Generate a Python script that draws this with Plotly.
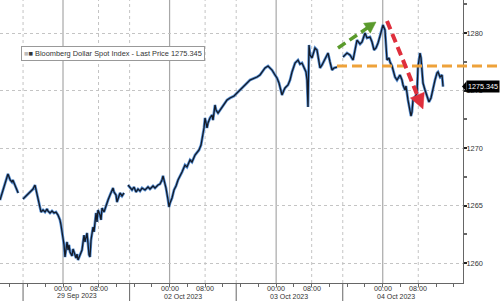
import plotly.graph_objects as go

# Bloomberg Dollar Spot Index, intraday. Time = hours since 29 Sep 2023 00:00
# (weekend compressed as on the Bloomberg chart)
seg1_t = [-14.2, -13.5, -12.8, -12.4, -11.9, -11.5, -11.3, -10.8, -10.1]
seg1_v = [1265.48, 1266.35, 1267.22, 1267.74, 1267.22, 1267.04, 1267.22, 1266.78, 1266.09]

seg2_t = [-9.01, -8.33, -7.66, -7.21, -6.76, -6.31, -6.08, -5.63, -5.18, -4.95,
          -4.50, -4.05, -3.60, -3.38, -2.93, -2.48, -2.03, -1.58, -1.13, -0.68,
          -0.45, -0.23, 0.0, 0.23, 0.45, 0.68, 0.90, 1.13, 1.35, 1.58,
          2.03, 2.25, 2.48, 2.93, 3.15, 3.38, 3.83, 4.28, 4.73, 4.95,
          5.41, 5.63, 5.86, 6.08, 6.31, 6.76, 6.98, 7.43, 7.66, 7.88,
          8.33, 8.56, 8.78, 9.23, 9.68, 10.14, 10.59, 11.04, 11.26, 11.49,
          11.94, 12.16, 12.39, 12.84, 13.29, 13.74]
seg2_v = [1265.57, 1265.83, 1266.09, 1266.17, 1266.43, 1266.78, 1266.35, 1265.65, 1264.78, 1264.43,
          1264.61, 1264.43, 1264.70, 1264.52, 1264.35, 1264.52, 1264.35, 1264.43, 1264.17, 1263.74,
          1263.30, 1262.70, 1262.26, 1261.57, 1260.52, 1261.30, 1261.83, 1261.13, 1261.57, 1260.96,
          1260.61, 1261.22, 1260.87, 1260.43, 1260.78, 1260.26, 1260.70, 1261.13, 1262.43, 1261.83,
          1262.61, 1261.57, 1260.70, 1260.52, 1262.00, 1263.13, 1262.70, 1264.35, 1263.57, 1264.61,
          1264.17, 1263.74, 1264.78, 1264.43, 1265.04, 1265.48, 1265.91, 1266.35, 1266.52, 1266.17,
          1265.91, 1265.30, 1265.65, 1266.09, 1265.83, 1266.09]

seg3_t = [14.64, 15.09, 15.54, 15.99, 16.44, 16.89, 17.34, 17.79, 18.47, 19.14,
          19.59, 20.27, 20.72, 21.39, 21.84, 22.29, 22.52, 22.74, 23.19, 23.65,
          23.87, 24.10, 24.55, 25.00, 25.45, 25.90, 26.35, 26.80, 27.47, 27.92,
          28.60, 29.05, 29.73, 30.18, 30.63, 31.08, 31.30, 31.53, 31.75, 31.98,
          32.20, 32.43, 32.65, 33.10, 33.55, 33.78, 34.23, 34.46, 34.91, 35.36,
          35.81, 36.26, 36.93, 37.61, 38.06, 38.51, 39.18, 39.86, 40.54, 40.99,
          41.44, 42.11, 42.79, 43.69, 44.36, 44.81, 45.49, 46.17, 46.62, 47.07,
          47.74, 48.19, 48.64, 49.32, 49.77, 49.99, 50.67, 51.12, 51.57, 52.25,
          52.92, 53.37, 53.82, 54.27, 54.72, 54.95, 55.17, 55.40, 55.62, 56.07,
          56.75, 57.20, 57.43, 57.88, 58.33, 58.55, 59.23, 59.68, 60.13, 60.58,
          61.03, 61.71]
seg3_v = [1266.78, 1266.52, 1266.35, 1266.61, 1266.17, 1266.43, 1266.26, 1266.52, 1266.35, 1266.61,
          1266.43, 1266.70, 1266.52, 1266.78, 1266.87, 1267.22, 1267.57, 1267.22, 1266.52, 1265.48,
          1264.87, 1265.22, 1265.65, 1266.35, 1266.70, 1267.22, 1267.65, 1267.91, 1268.52, 1268.35,
          1268.96, 1268.78, 1269.39, 1269.65, 1269.83, 1270.26, 1270.70, 1271.30, 1271.74, 1272.61,
          1272.26, 1271.74, 1272.17, 1272.61, 1272.87, 1272.43, 1273.74, 1273.30, 1273.04, 1273.30,
          1273.48, 1273.83, 1274.17, 1274.35, 1274.43, 1274.52, 1274.78, 1275.04, 1275.30, 1275.39,
          1275.65, 1275.91, 1276.00, 1276.17, 1276.35, 1276.61, 1276.96, 1277.13, 1276.96, 1276.78,
          1276.35, 1276.09, 1275.65, 1274.61, 1275.04, 1275.22, 1275.48, 1275.91, 1276.61, 1277.39,
          1277.65, 1277.30, 1277.39, 1277.04, 1276.61, 1275.91, 1273.57, 1278.96, 1278.09, 1277.83,
          1278.70, 1278.52, 1277.91, 1276.96, 1277.22, 1277.39, 1277.83, 1278.26, 1277.48, 1276.78,
          1276.96, 1277.04]

seg4_t = [63.06, 63.51, 63.96, 64.63, 65.31, 65.76, 66.21, 66.89, 67.34, 67.79,
          68.01, 68.46, 69.14, 69.59, 70.04, 70.49, 70.94, 71.39, 71.84, 72.06,
          72.51, 72.74, 72.96, 73.41, 73.64, 74.09, 74.32, 74.77, 75.22, 75.67,
          75.89, 76.34, 76.57, 77.02, 77.24, 77.69, 78.14, 78.37, 78.59, 78.82,
          79.27, 79.72, 79.94, 80.39, 80.62, 80.84, 81.07, 81.52, 81.97, 82.42,
          82.87, 83.10, 83.55, 83.77, 84.22, 84.45, 84.90, 85.35, 85.58]
seg4_v = [1277.91, 1278.09, 1278.26, 1278.09, 1277.65, 1278.52, 1279.39, 1279.04, 1279.22, 1279.74,
          1280.00, 1279.57, 1279.65, 1279.22, 1278.52, 1278.70, 1279.13, 1279.74, 1280.43, 1280.70,
          1280.26, 1278.96, 1277.65, 1277.83, 1277.48, 1277.13, 1276.78, 1276.17, 1275.91, 1276.26,
          1276.35, 1275.91, 1275.48, 1275.04, 1275.39, 1274.17, 1273.30, 1272.78, 1273.13, 1274.17,
          1274.43, 1274.78, 1277.04, 1278.26, 1277.83, 1277.04, 1275.65, 1275.04, 1274.43, 1274.00,
          1274.35, 1274.78, 1275.48, 1275.91, 1276.52, 1276.61, 1276.17, 1276.35, 1275.345]

last_price = 1275.345
ref_level = 1277.13
y_ticks = [1260, 1265, 1270, 1275, 1280]
day_hours = [0, 24, 48, 72]
day_labels = ["29 Sep 2023", "02 Oct 2023", "03 Oct 2023", "04 Oct 2023"]
session_breaks = [-9, 15, 39, 63]

FONT = "Liberation Sans, Arial"
TXT = "#333333"

xs, ys = [], []
for t, v in [(seg1_t, seg1_v), (seg2_t, seg2_v), (seg3_t, seg3_v), (seg4_t, seg4_v)]:
    xs += list(t) + [None]
    ys += list(v) + [None]

W, H = 500, 301
ML, MR, MT, MB = 0, 37, 0, 18
PW, PH = W - ML - MR, H - MT - MB
X0 = -14.19
X1 = X0 + PW * 0.2252
Y1 = 1282.87
Y0 = Y1 - PH / 11.5


def px(p):
    return p / PW


def py(p):
    return 1 - p / PH


fig = go.Figure()
fig.add_trace(go.Scatter(x=xs, y=ys, mode="lines", line=dict(color="#5a93d8", width=2.8),
                         connectgaps=False, hoverinfo="skip", showlegend=False))
fig.add_trace(go.Scatter(x=xs, y=ys, mode="lines", line=dict(color="#141b28", width=1.3),
                         connectgaps=False, showlegend=False))

shapes = []
# vertical grid lines
for d in day_hours:
    shapes.append(dict(type="line", xref="x", yref="paper", x0=d, x1=d, y0=0, y1=1,
                       line=dict(color="#a8a8a8", width=1.2), layer="below"))
    shapes.append(dict(type="line", xref="x", yref="paper", x0=d + 8, x1=d + 8, y0=0, y1=1,
                       line=dict(color="#c4c4c4", width=1, dash="dot"), layer="below"))
for s in session_breaks:
    shapes.append(dict(type="line", xref="x", yref="paper", x0=s, x1=s, y0=0, y1=1,
                       line=dict(color="#c4c4c4", width=1, dash="dot"), layer="below"))
    shapes.append(dict(type="line", xref="x", yref="paper", x0=s, x1=s, y0=0, y1=-18 / PH,
                       line=dict(color="#666", width=1)))

# orange dashed reference level
shapes.append(dict(type="line", xref="paper", yref="y", x0=px(337), x1=px(500), y0=ref_level, y1=ref_level,
                   line=dict(color="#eea23a", width=3, dash="10px,5px")))


def arrow(x0, y0, x1, y1, color, width, hl, hw):
    dx, dy = x1 - x0, y1 - y0
    L = (dx * dx + dy * dy) ** 0.5
    ux, uy = dx / L, dy / L
    bx, by = x1 - hl * ux, y1 - hl * uy
    nx, ny = -uy, ux
    out = [dict(type="line", xref="paper", yref="paper", x0=px(x0), y0=py(y0), x1=px(bx + ux), y1=py(by + uy),
                line=dict(color=color, width=width, dash="9px,5px"))]
    p = "M {} {} L {} {} L {} {} Z".format(px(x1), py(y1), px(bx + hw * nx), py(by + hw * ny),
                                           px(bx - hw * nx), py(by - hw * ny))
    out.append(dict(type="path", xref="paper", yref="paper", path=p, fillcolor=color,
                    line=dict(color=color, width=0.5)))
    return out


shapes += arrow(338, 48, 376, 22, "#5a9a2c", 3.5, 11, 6)
shapes += arrow(387, 21, 423, 109, "#df2f3c", 4, 15, 7.5)

# last price tag pointer
shapes.append(dict(type="path", xref="paper", yref="y",
                   path="M {} {} L {} {} L {} {} Z".format(px(462), last_price, px(466.5), last_price + 0.45,
                                                           px(466.5), last_price - 0.45),
                   fillcolor="#000", line=dict(color="#000", width=0)))

annotations = []
for d, lab in zip(day_hours, day_labels):
    annotations.append(dict(xref="x", yref="paper", x=d, y=py(288), text="00:00", showarrow=False,
                            xanchor="center", yanchor="middle", font=dict(family=FONT, size=7.2, color=TXT)))
    annotations.append(dict(xref="x", yref="paper", x=d + 8, y=py(288), text="08:00", showarrow=False,
                            xanchor="center", yanchor="middle", font=dict(family=FONT, size=7.2, color=TXT)))
    annotations.append(dict(xref="x", yref="paper", x=d - 1.8, y=py(296.5), text=lab, showarrow=False,
                            xanchor="left", yanchor="middle", font=dict(family=FONT, size=7.0, color=TXT)))

annotations.append(dict(xref="paper", yref="paper", x=px(21), y=py(53.5), xanchor="left", yanchor="middle",
                        text="<span style='color:#bbb'>■</span>■ Bloomberg Dollar Spot Index - Last Price 1275.345",
                        showarrow=False, bordercolor="#999", borderwidth=1, borderpad=2, bgcolor="white",
                        font=dict(family=FONT, size=7.4, color=TXT)))
annotations.append(dict(xref="paper", yref="y", x=px(466), y=last_price, xanchor="left", yanchor="middle",
                        text="1275.345", showarrow=False, bgcolor="#000", borderpad=1,
                        font=dict(family=FONT, size=7.2, color="white")))

fig.update_layout(
    width=W, height=H, margin=dict(l=ML, r=MR, t=MT, b=MB),
    paper_bgcolor="white", plot_bgcolor="white",
    shapes=shapes, annotations=annotations, showlegend=False,
    xaxis=dict(range=[X0, X1], showgrid=False, zeroline=False, showline=True, linecolor="#666",
               tickmode="linear", tick0=0, dtick=4, ticks="outside", ticklen=3, tickcolor="#666",
               showticklabels=False),
    yaxis=dict(range=[Y0, Y1], side="right", tickvals=y_ticks, ticks="outside", ticklen=3, tickwidth=2,
               tickcolor="#222", showline=True, linecolor="#666", linewidth=1,
               showgrid=True, gridcolor="#c4c4c4", griddash="dot", gridwidth=1, zeroline=False,
               tickfont=dict(family=FONT, size=7.4, color=TXT), ticklabelstandoff=-2,
               minor=dict(dtick=2.5, tick0=1260, ticks="outside", ticklen=3, tickcolor="#666", showgrid=False)),
)

fig.write_html("out.html")
